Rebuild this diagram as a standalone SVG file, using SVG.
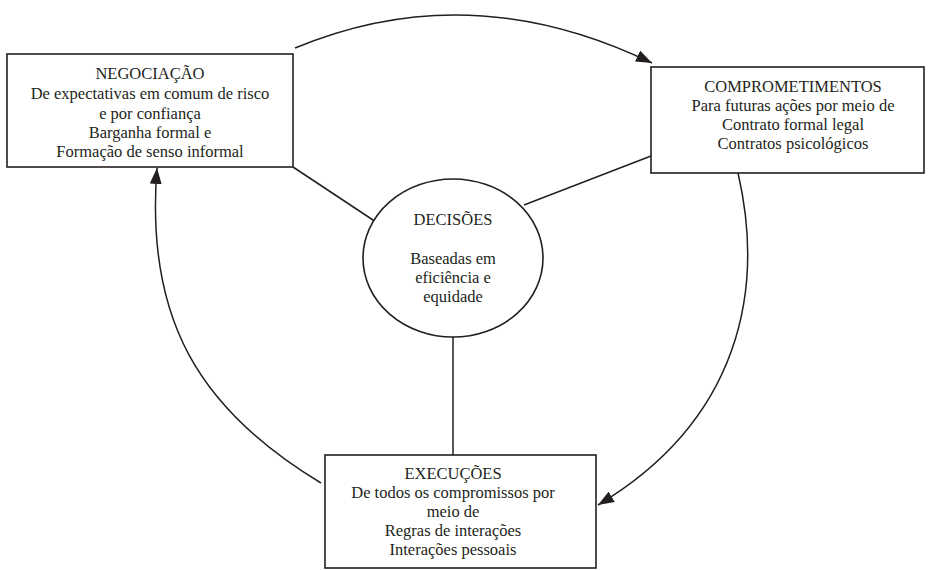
<svg xmlns="http://www.w3.org/2000/svg" width="929" height="570" viewBox="0 0 929 570" font-family="'Liberation Serif', 'Times New Roman', serif">
<style>
.box{fill:#fff;stroke:#231f20;stroke-width:1.6}
.ln{fill:none;stroke:#231f20;stroke-width:1.5}
text{font-family:"Liberation Serif","Times New Roman",serif;font-size:16.5px;fill:#231f20;text-anchor:middle}
</style>
<defs>
<marker id="ah" viewBox="0 0 16 12" refX="16" refY="6" markerWidth="16" markerHeight="12" markerUnits="userSpaceOnUse" orient="auto">
<path d="M0,0 L16,6 L0,12 Z" fill="#231f20"/>
</marker>
</defs>
<rect width="929" height="570" fill="#fff"/>
<g id="connectors">
<path class="ln" d="M295,48 Q470,-25 652,63" marker-end="url(#ah)"/>
<path class="ln" d="M738,173 C765,290 740,420 598,505" marker-end="url(#ah)"/>
<path class="ln" d="M321,483 C200,410 145,320 157,168" marker-end="url(#ah)"/>
<line class="ln" x1="293" y1="167" x2="376" y2="222"/>
<line class="ln" x1="651" y1="156" x2="524" y2="205"/>
<line class="ln" x1="453" y1="337" x2="453" y2="455"/>
</g>
<g id="negociacao">
<rect class="box" x="7" y="54" width="286" height="113"/>
<text x="150" y="79">NEGOCIAÇÃO</text>
<text x="150" y="99">De expectativas em comum de risco</text>
<text x="150" y="119">e por confiança</text>
<text x="150" y="138">Barganha formal e</text>
<text x="150" y="157">Formação de senso informal</text>
</g>
<g id="comprometimentos">
<rect class="box" x="651" y="67" width="273" height="106"/>
<text x="793" y="92">COMPROMETIMENTOS</text>
<text x="793" y="111">Para futuras ações por meio de</text>
<text x="793" y="130">Contrato formal legal</text>
<text x="793" y="149">Contratos psicológicos</text>
</g>
<g id="decisoes">
<ellipse class="box" cx="453" cy="258" rx="90" ry="79"/>
<text x="453" y="225">DECISÕES</text>
<text x="453" y="264">Baseadas em</text>
<text x="453" y="283">eficiência e</text>
<text x="453" y="302">equidade</text>
</g>
<g id="execucoes">
<rect class="box" x="325" y="455" width="271" height="113"/>
<text x="453" y="479">EXECUÇÕES</text>
<text x="453" y="498">De todos os compromissos por</text>
<text x="453" y="517">meio de</text>
<text x="453" y="536">Regras de interações</text>
<text x="453" y="555">Interações pessoais</text>
</g>
</svg>
